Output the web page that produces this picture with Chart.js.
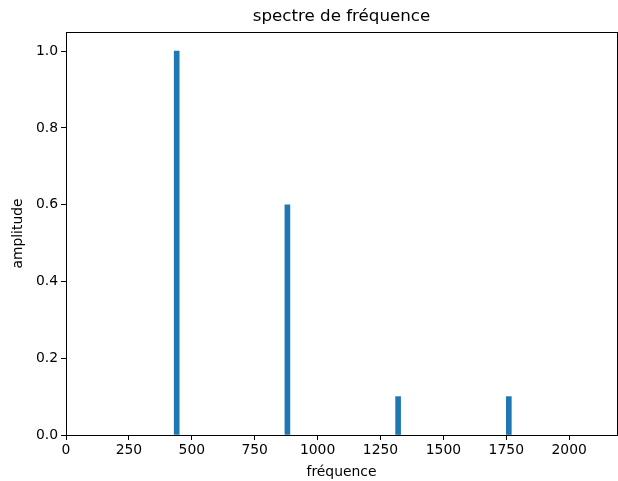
<!DOCTYPE html>
<html>
<head>
<meta charset="utf-8">
<script src="https://cdn.jsdelivr.net/npm/chart.js@4"></script>
<style>
  html, body { margin: 0; padding: 0; background: #fff; }
  #wrap { width: 618px; height: 481px; }
</style>
</head>
<body>
<div id="wrap"><canvas id="spectrum" width="618" height="481"></canvas></div>
<script>
// spectre: harmonics of A4 (440 Hz)
const frequencies = [440, 880, 1320, 1760];
const amplitudes = [1.0, 0.6, 0.1, 0.1];
const xTicks = [0, 250, 500, 750, 1000, 1250, 1500, 1750, 2000];
const yTicks = [0, 0.2, 0.4, 0.6, 0.8, 1.0];

const FONT = 'DejaVu Sans';
const barColor = '#1f77b4';

// frame (top + right spines) and the title, centred over the plot area
const framePlugin = {
  id: 'frame',
  afterDraw(chart) {
    const { ctx, chartArea: a } = chart;
    ctx.save();
    ctx.strokeStyle = '#000';
    ctx.lineWidth = 1;
    ctx.strokeRect(a.left + 0.5, a.top + 0.5, a.right - a.left, a.bottom - a.top);
    ctx.fillStyle = '#000';
    ctx.font = '16.7px "' + FONT + '"';
    ctx.textAlign = 'center';
    ctx.textBaseline = 'middle';
    ctx.fillText('spectre de fréquence', (a.left + a.right) / 2, 17);
    ctx.restore();
  }
};

new Chart(document.getElementById('spectrum'), {
  type: 'bar',
  data: {
    datasets: [{
      data: frequencies.map((f, i) => ({ x: f, y: amplitudes[i] })),
      backgroundColor: barColor,
      borderWidth: 0,
      barThickness: 5
    }]
  },
  options: {
    responsive: false,
    animation: false,
    layout: { padding: { top: 32, right: 1, left: 0, bottom: 0 } },
    plugins: {
      legend: { display: false },
      tooltip: { enabled: false }
    },
    scales: {
      x: {
        type: 'linear',
        min: 0,
        max: 2190,
        offset: false,
        grid: { drawOnChartArea: false, offset: false, color: '#000', tickLength: 5 },
        border: { color: '#000', width: 1 },
        afterBuildTicks(scale) { scale.ticks = xTicks.map(v => ({ value: v })); },
        ticks: {
          color: '#000',
          padding: 2,
          maxRotation: 0,
          autoSkip: false,
          font: { family: FONT, size: 13.9 },
          callback: v => v.toFixed(0)
        },
        title: {
          display: true,
          text: 'fréquence',
          color: '#000',
          padding: { top: 2, bottom: 0 },
          font: { family: FONT, size: 13.9 }
        },
        afterFit(scale) { scale.height = 46; }
      },
      y: {
        min: 0,
        max: 1.05,
        grid: { drawOnChartArea: false, color: '#000', tickLength: 5 },
        border: { color: '#000', width: 1 },
        afterBuildTicks(scale) { scale.ticks = yTicks.map(v => ({ value: v })); },
        ticks: {
          color: '#000',
          padding: 3,
          autoSkip: false,
          font: { family: FONT, size: 13.9 },
          callback: v => v.toFixed(1)
        },
        title: {
          display: true,
          text: 'amplitude',
          color: '#000',
          padding: { top: 10, bottom: 0 },
          font: { family: FONT, size: 13.9 }
        },
        afterFit(scale) { scale.width = 66; }
      }
    }
  },
  plugins: [framePlugin]
});
</script>
</body>
</html>
